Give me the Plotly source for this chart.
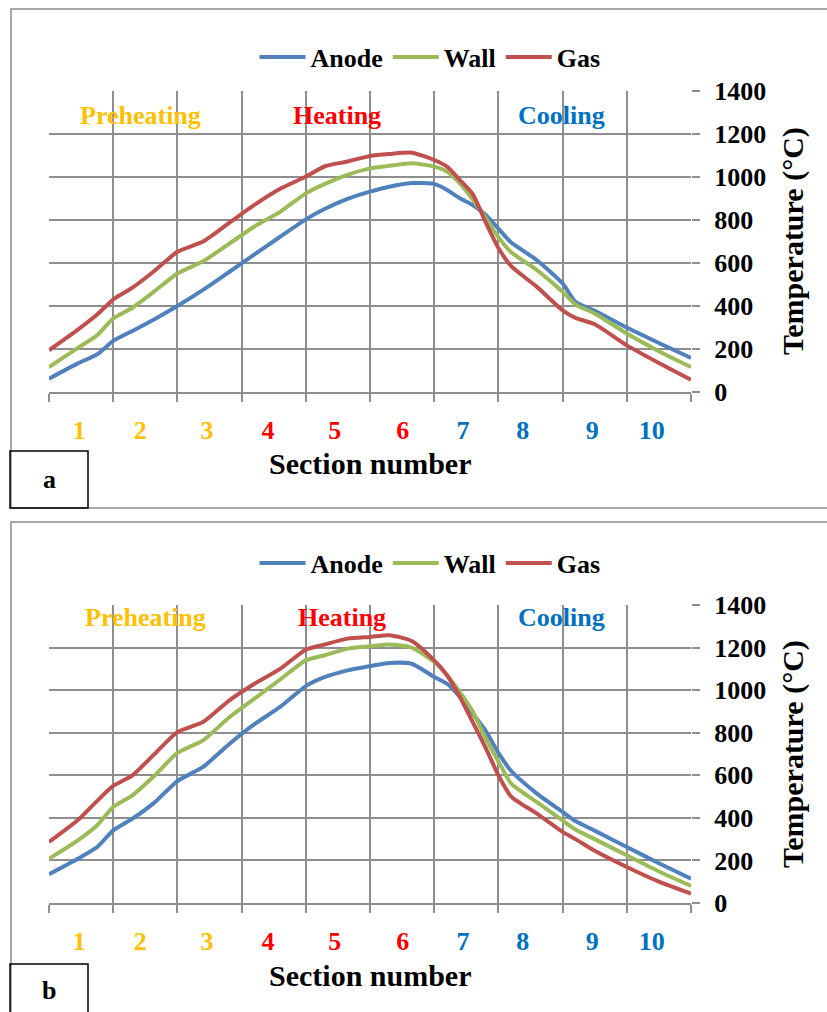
import plotly.graph_objects as go

# ---------------- data ----------------
x_pos = [0, 0.45, 0.75, 1.0, 1.3, 1.65, 2.0, 2.4, 2.8, 3.2, 3.6, 4.0, 4.3, 4.65, 5.0,
         5.3, 5.65, 6.0, 6.2, 6.4, 6.6, 6.8, 7.0, 7.2, 7.6, 8.0, 8.2, 8.5, 9.0, 9.5, 10.0]

anode_a = [62, 133, 175, 238, 284, 340, 400, 475, 557, 640, 722, 803, 852, 898, 932,
           955, 972, 968, 940, 901, 870, 825, 760, 695, 613, 505, 420, 378, 300, 228, 158]
wall_a = [116, 205, 264, 342, 392, 470, 551, 608, 688, 770, 838, 924, 968, 1010, 1040,
          1052, 1064, 1048, 1025, 970, 895, 810, 720, 650, 567, 466, 408, 365, 272, 190, 116]
gas_a = [194, 290, 360, 430, 485, 565, 652, 700, 785, 870, 945, 1002, 1050, 1072, 1098,
         1107, 1113, 1079, 1048, 986, 920, 790, 670, 585, 489, 380, 345, 315, 217, 135, 57]

anode_b = [135, 208, 263, 341, 396, 474, 573, 639, 745, 840, 921, 1019, 1062, 1093, 1113,
           1128, 1124, 1062, 1030, 968, 890, 810, 705, 620, 514, 428, 385, 340, 263, 187, 114]
wall_b = [208, 294, 365, 451, 506, 600, 705, 764, 870, 960, 1050, 1140, 1164, 1195, 1206,
          1215, 1200, 1132, 1070, 991, 900, 775, 665, 561, 474, 388, 345, 300, 224, 148, 80]
gas_b = [287, 390, 480, 550, 600, 702, 803, 850, 950, 1030, 1100, 1190, 1215, 1242, 1250,
         1258, 1231, 1140, 1070, 968, 850, 730, 600, 500, 420, 334, 300, 245, 169, 100, 44]

series_names = ["Anode", "Wall", "Gas"]
series_colors = ["#4F81BD", "#9BBB59", "#C0504D"]

section_labels = ["1", "2", "3", "4", "5", "6", "7", "8", "9", "10"]
section_label_pos = [0.47, 1.42, 2.46, 3.41, 4.45, 5.51, 6.45, 7.38, 8.46, 9.39]
section_colors = ["#FFC000"] * 3 + ["#FF0000"] * 3 + ["#0070C0"] * 4

phase_names = ["Preheating", "Heating", "Cooling"]
phase_colors = ["#FFC000", "#FF0000", "#0070C0"]
phase_x_a = [1.42, 4.49, 7.99]
phase_x_b = [1.50, 4.56, 7.98]
phase_y_a = 1288
phase_y_b = 1339

# ---------------- layout helpers ----------------
W, H = 827, 1012
FONT = "Times New Roman, Liberation Serif, DejaVu Serif, serif"
GRID = "#8E8E8E"


def px(p):
    return p / W


def py(p):
    return 1 - p / H


fig = go.Figure()
panels = [
    ("x", "y", "legend", [anode_a, wall_a, gas_a]),
    ("x2", "y2", "legend2", [anode_b, wall_b, gas_b]),
]
for xa, ya, lg, data in panels:
    for name, color, vals in zip(series_names, series_colors, data):
        fig.add_trace(go.Scatter(
            x=x_pos, y=vals, name=name, mode="lines",
            line=dict(color=color, width=4, shape="spline", smoothing=0.6),
            xaxis=xa, yaxis=ya, legend=lg, hoverinfo="skip",
        ))

ticktext = [f'<span style="color:{c}">{l}</span>' for l, c in zip(section_labels, section_colors)]


def xaxis_cfg(anchor):
    return dict(
        domain=[px(49), px(691)], range=[0, 10], anchor=anchor,
        tickmode="array", tickvals=section_label_pos, ticktext=ticktext,
        ticks="", showgrid=False, zeroline=False,
        showline=True, linecolor=GRID, linewidth=1.5,
        tickfont=dict(family=FONT, size=26, color="black", weight="bold"),
        ticklabelstandoff=14,
        minor=dict(tickmode="linear", tick0=0, dtick=1, ticks="outside", ticklen=8,
                   tickcolor=GRID, tickwidth=1.5, showgrid=True,
                   gridcolor=GRID, gridwidth=1.5),
        fixedrange=True, automargin=False,
    )


def yaxis_cfg(anchor, top, bottom):
    return dict(
        domain=[py(bottom), py(top)], range=[0, 1400], anchor=anchor, side="right",
        tickmode="linear", tick0=0, dtick=200, ticks="outside", ticklen=8,
        tickcolor=GRID, tickwidth=1.5, showgrid=True, gridcolor=GRID, gridwidth=1.5,
        zeroline=False, showline=False,
        tickfont=dict(family=FONT, size=26, color="black", weight="bold"),
        ticklabelstandoff=9, fixedrange=True, automargin=False,
    )


legend_style = dict(
    orientation="h", xanchor="center", yanchor="middle",
    font=dict(family=FONT, size=26, color="black", weight="bold"),
    bgcolor="rgba(0,0,0,0)", itemwidth=46,
)

annotations = []
for px_list, ph_y, ax, ay in [(phase_x_a, phase_y_a, "x", "y"), (phase_x_b, phase_y_b, "x2", "y2")]:
    for name, color, xv in zip(phase_names, phase_colors, px_list):
        annotations.append(dict(
            x=xv, y=ph_y, xref=ax, yref=ay, text=f"<b>{name}</b>", showarrow=False,
            font=dict(family=FONT, size=26, color=color),
            xanchor="center", yanchor="middle"))

for xt_y, yt_y, box_lbl, box_y in [(463, 241, "a", 479), (975, 754, "b", 990)]:
    annotations.append(dict(
        x=px(370), y=py(xt_y), xref="paper", yref="paper", text="<b>Section number</b>",
        showarrow=False, font=dict(family=FONT, size=30, color="black"),
        xanchor="center", yanchor="middle"))
    annotations.append(dict(
        x=px(793), y=py(yt_y), xref="paper", yref="paper", text="<b>Temperature (°C)</b>",
        showarrow=False, textangle=-90, font=dict(family=FONT, size=30, color="black"),
        xanchor="center", yanchor="middle"))
    annotations.append(dict(
        x=px(49), y=py(box_y), xref="paper", yref="paper", text=f"<b>{box_lbl}</b>",
        showarrow=False, font=dict(family=FONT, size=26, color="black"),
        xanchor="center", yanchor="middle"))

shapes = [
    dict(type="rect", xref="paper", yref="paper", x0=px(11), x1=px(840), y0=py(508), y1=py(9),
         line=dict(color="#8C8C8C", width=1.5), layer="below"),
    dict(type="rect", xref="paper", yref="paper", x0=px(11), x1=px(840), y0=py(1030), y1=py(522),
         line=dict(color="#8C8C8C", width=1.5), layer="below"),
    dict(type="rect", xref="paper", yref="paper", x0=px(10), x1=px(88), y0=py(508), y1=py(451),
         line=dict(color="black", width=1.5)),
    dict(type="rect", xref="paper", yref="paper", x0=px(10), x1=px(88), y0=py(1030), y1=py(964),
         line=dict(color="black", width=1.5)),
]

fig.update_layout(
    width=W, height=H, margin=dict(l=0, r=0, t=0, b=0),
    paper_bgcolor="white", plot_bgcolor="white",
    xaxis=xaxis_cfg("y"),
    yaxis=yaxis_cfg("x", 91, 392),
    xaxis2=xaxis_cfg("y2"),
    yaxis2=yaxis_cfg("x2", 605, 903),
    legend=dict(legend_style, x=px(430), y=py(57)),
    legend2=dict(legend_style, x=px(430), y=py(563)),
    annotations=annotations, shapes=shapes,
    showlegend=True,
)

fig.write_html("out.html", config={"displayModeBar": False},
               post_script="document.body.style.margin='0';document.body.style.overflow='hidden';")
